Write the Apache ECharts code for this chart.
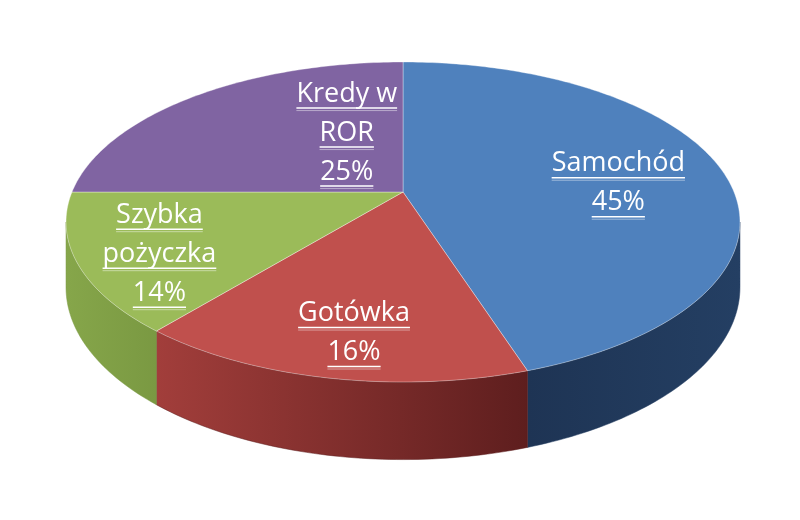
<!DOCTYPE html>
<html>
<head>
<meta charset="utf-8">
<script src="https://cdn.jsdelivr.net/npm/echarts@6/dist/echarts.min.js"></script>
<style>html,body{margin:0;padding:0;background:#fff;}#chart{width:800px;height:520px;}</style>
</head>
<body>
<div id="chart"></div>
<script>
// ---- data ----
const categories = ['Samochód', 'Gotówka', 'Szybka pożyczka', 'Kredy w ROR'];
const categoryLines = [['Samochód'], ['Gotówka'], ['Szybka', 'pożyczka'], ['Kredy w', 'ROR']];
const values = [45, 16, 14, 25];

// ---- style ----
const topColors = ['#4F81BD', '#C0504D', '#9BBB59', '#8064A2'];
const sideColors = [['#1E3454', '#243F63'], ['#A23E3B', '#5E1E1E'], ['#86A64A', '#7A9942'], ['#5E4880', '#4A3866']];
// label placement: [radius fraction, angle shift in degrees]
const labelPlace = [[0.66, 4], [0.79, -1.6], [0.78, -3.5], [0.45, 21]];
const FONT_SIZE = 27;
const FONT = FONT_SIZE + 'px "Open Sans", "Noto Sans", sans-serif';
const LINE_H = 39;

// ---- 3D projection layout (pie center / radii / tilt) ----
const CX = 403, CY = 192, A = 331, B = 154.4, K = 0.1875, DEPTH = 63;

function proj(u, v, dz) {
  const w = 1 - K * v;
  return [CX + A * u / w, CY + B * v / w + (dz || 0) / w];
}
function rim(deg, r, dz) {
  const t = deg * Math.PI / 180;
  return proj(r * Math.sin(t), -r * Math.cos(t), dz);
}
const measureCtx = document.createElement('canvas').getContext('2d');
measureCtx.font = FONT;

const total = values.reduce((a, b) => a + b, 0);
const thL = Math.acos(-K) * 180 / Math.PI;   // right silhouette
const thR = 360 - thL;                         // left silhouette

function arcPts(a, b, r, dz) {
  const pts = [];
  const n = Math.max(2, Math.ceil(Math.abs(b - a)));
  for (let i = 0; i <= n; i++) pts.push(rim(a + (b - a) * i / n, r, dz));
  return pts;
}

function renderItem(params, api) {
  const idx = params.dataIndex;
  let before = 0;
  for (let i = 0; i < idx; i++) before += values[i];
  const a = before / total * 360;
  const b = (before + api.value(0)) / total * 360;
  const children = [];

  // side wall
  const s0 = Math.max(a, thL), s1 = Math.min(b, thR);
  if (s1 > s0) {
    const pts = arcPts(s0, s1, 1, 0).concat(arcPts(s1, s0, 1, DEPTH));
    children.push({
      type: 'polygon', z2: 1,
      shape: { points: pts },
      style: {
        fill: { type: 'linear', x: 0, y: 0, x2: 1, y2: 0,
          colorStops: [{ offset: 0, color: sideColors[idx][0] }, { offset: 1, color: sideColors[idx][1] }] },
        stroke: sideColors[idx][1], lineWidth: 0.5
      }
    });
  }
  // top face
  const topPts = [proj(0, 0)].concat(arcPts(a, b, 1, 0));
  children.push({
    type: 'polygon', z2: 5,
    shape: { points: topPts },
    style: { fill: topColors[idx], stroke: 'rgba(255,255,255,0.35)', lineWidth: 1 }
  });

  // label
  const lines = categoryLines[idx].concat([Math.round(api.value(0) / total * 100) + '%']);
  const mid = (a + b) / 2 + labelPlace[idx][1];
  const c = rim(mid, labelPlace[idx][0], 0);
  const y0 = c[1] - (lines.length - 1) * LINE_H / 2;
  lines.forEach((txt, i) => {
    const y = y0 + i * LINE_H;
    const w = measureCtx.measureText(txt).width;
    children.push({
      type: 'text', z2: 100,
      style: { text: txt, x: c[0], y: y, fill: '#ffffff', font: FONT, align: 'center', verticalAlign: 'middle' }
    });
    children.push({
      type: 'line', z2: 100,
      shape: { x1: c[0] - w / 2, y1: y + 14, x2: c[0] + w / 2, y2: y + 14 },
      style: { stroke: '#ffffff', lineWidth: 1.5 }
    });
    children.push({
      type: 'line', z2: 99,
      shape: { x1: c[0] - w / 2, y1: y + 16.5, x2: c[0] + w / 2, y2: y + 16.5 },
      style: { stroke: 'rgba(255,255,255,0.45)', lineWidth: 1 }
    });
  });
  return { type: 'group', children: children };
}

const chart = echarts.init(document.getElementById('chart'), null, { renderer: 'canvas' });
chart.setOption({
  animation: false,
  backgroundColor: '#ffffff',
  series: [{
    type: 'custom',
    name: 'Kredyty',
    coordinateSystem: 'none',
    data: values.map((v, i) => ({ name: categories[i], value: v })),
    renderItem: renderItem
  }]
});
</script>
</body>
</html>
